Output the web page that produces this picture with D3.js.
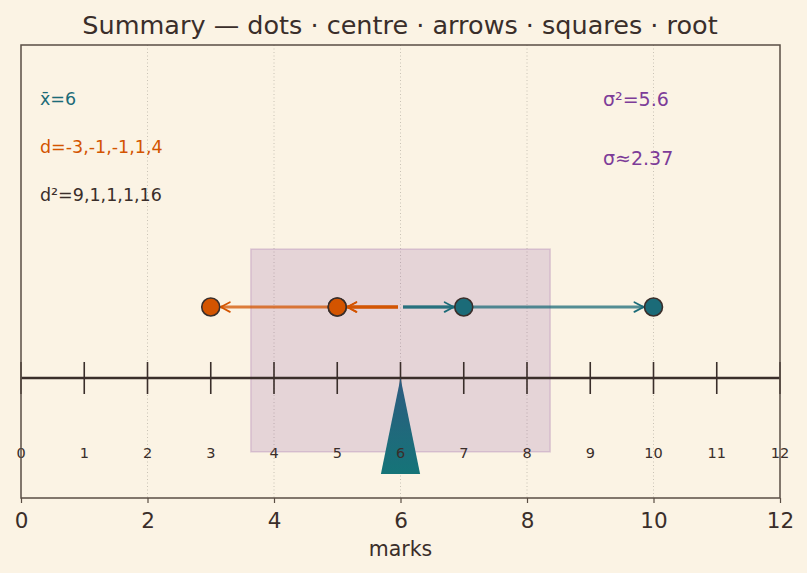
<!doctype html>
<html lang="en">
<head>
  <meta charset="utf-8">
  <script src="https://cdn.jsdelivr.net/npm/d3@7"></script>
  <title>Summary</title>
  <style>
    body { margin: 0; background: #fbf3e4; }
    svg { display: block; font-family: "DejaVu Sans", sans-serif; }
  </style>
</head>
<body>
  <svg id="chart" width="807" height="573"></svg>
  <script>
    // data
    var marks = [3, 5, 5, 7, 10];
    var lineTicks = [0, 1, 2, 3, 4, 5, 6, 7, 8, 9, 10, 11, 12];
    var axisTicks = [0, 2, 4, 6, 8, 10, 12];
    var mean = d3.mean(marks);
    var devs = marks.map(function(m) { return m - mean; });
    var variance = d3.mean(devs.map(function(d) { return d * d; }));
    var sd = Math.sqrt(variance);

    var ink = "#3a2e2a", teal = "#1b6b78", orange = "#d35400", purple = "#7d3c98";
    var W = 807, H = 573;
    var m = { top: 45, right: 27, bottom: 75, left: 21 };
    var svg = d3.select("#chart");

    var x = d3.scaleLinear().domain([0, 12]).range([m.left, W - m.right]);
    var y = d3.scaleLinear().domain([-0.845, 2.345]).range([H - m.bottom, m.top]);

    var defs = svg.append("defs");
    var grad = defs.append("linearGradient").attr("id", "tri").attr("x1", 0).attr("y1", 0).attr("x2", 0).attr("y2", 1);
    grad.append("stop").attr("offset", "0%").attr("stop-color", "#2d5b80");
    grad.append("stop").attr("offset", "100%").attr("stop-color", "#157478");
    [["arrO", orange], ["arrT", teal]].forEach(function(a) {
      defs.append("marker").attr("id", a[0]).attr("viewBox", "0 -5 10 10")
        .attr("refX", 9).attr("refY", 0).attr("markerWidth", 4.2).attr("markerHeight", 4.2)
        .attr("markerUnits", "strokeWidth").attr("orient", "auto")
        .append("path").attr("d", "M1.5,-4L9,0L1.5,4").attr("fill", "none")
        .attr("stroke", a[1]).attr("stroke-width", 1.4).attr("stroke-linecap", "round");
    });

    // grid
    svg.append("g").selectAll("line").data(axisTicks.slice(1, -1)).enter().append("line")
      .attr("x1", function(d) { return x(d); }).attr("x2", function(d) { return x(d); })
      .attr("y1", m.top).attr("y2", H - m.bottom)
      .attr("stroke", "#bdb5a8").attr("stroke-width", 0.8).attr("stroke-dasharray", "1,2.5");

    // sd box
    svg.append("rect")
      .attr("x", x(mean - sd)).attr("width", x(mean + sd) - x(mean - sd))
      .attr("y", y(0.908)).attr("height", y(-0.52) - y(0.908))
      .attr("fill", purple).attr("fill-opacity", 0.17)
      .attr("stroke", purple).attr("stroke-opacity", 0.2).attr("stroke-width", 1.5);

    // number line
    svg.append("line").attr("x1", x(0)).attr("x2", x(12)).attr("y1", y(0)).attr("y2", y(0))
      .attr("stroke", ink).attr("stroke-width", 2.4);
    svg.append("g").selectAll("line").data(lineTicks).enter().append("line")
      .attr("x1", function(d) { return x(d); }).attr("x2", function(d) { return x(d); })
      .attr("y1", y(0) - 16).attr("y2", y(0) + 16)
      .attr("stroke", ink).attr("stroke-width", 1.6);

    // centre triangle
    svg.append("path")
      .attr("d", d3.line()([[x(mean), y(0)], [x(mean - 0.31), y(-0.676)], [x(mean + 0.31), y(-0.676)]]) + "Z")
      .attr("fill", "url(#tri)");

    svg.append("g").selectAll("text").data(lineTicks).enter().append("text")
      .attr("x", function(d) { return x(d); }).attr("y", y(-0.53)).attr("dy", "0.35em")
      .attr("text-anchor", "middle").attr("font-size", 14.5).attr("fill", ink)
      .text(function(d) { return d; });

    // arrows from centre
    var dotY = y(0.5), r = 9;
    svg.append("g").selectAll("line").data(marks).enter().append("line")
      .attr("x1", function(d) { return x(mean) + (d < mean ? -2.5 : 2.5); })
      .attr("x2", function(d) { return x(d) + (d < mean ? r + 1 : -r - 1); })
      .attr("y1", dotY).attr("y2", dotY)
      .attr("stroke", function(d) { return d < mean ? orange : teal; })
      .attr("stroke-opacity", 0.75).attr("stroke-width", 2.9)
      .attr("marker-end", function(d) { return d < mean ? "url(#arrO)" : "url(#arrT)"; });

    svg.append("g").selectAll("circle").data(marks).enter().append("circle")
      .attr("cx", function(d) { return x(d); }).attr("cy", dotY).attr("r", r)
      .attr("fill", function(d) { return d < mean ? orange : teal; })
      .attr("stroke", ink).attr("stroke-width", 1.6);

    // annotations
    svg.append("text").attr("x", 40).attr("y", 99).attr("dy", "0.35em").attr("font-size", 17.5)
      .attr("fill", teal).text("x\u0304=" + mean);
    svg.append("text").attr("x", 40).attr("y", 147).attr("dy", "0.35em").attr("font-size", 17.5)
      .attr("fill", orange).text("d=" + devs.join(","));
    svg.append("text").attr("x", 40).attr("y", 195).attr("dy", "0.35em").attr("font-size", 17.5)
      .attr("fill", ink).text("d\u00b2=" + devs.map(function(d) { return d * d; }).join(","));
    svg.append("text").attr("x", 603).attr("y", 99).attr("dy", "0.35em").attr("font-size", 19)
      .attr("fill", purple).text("\u03c3\u00b2=" + variance.toFixed(1));
    svg.append("text").attr("x", 603).attr("y", 158.5).attr("dy", "0.35em").attr("font-size", 19)
      .attr("fill", purple).text("\u03c3\u2248" + sd.toFixed(2));

    // frame + bottom axis
    svg.append("rect").attr("x", m.left).attr("y", m.top)
      .attr("width", W - m.left - m.right).attr("height", H - m.top - m.bottom)
      .attr("fill", "none").attr("stroke", "#5a4e44").attr("stroke-width", 1.5);
    var ax = svg.append("g").attr("transform", "translate(0," + (H - m.bottom) + ")")
      .call(d3.axisBottom(x).tickValues(axisTicks).tickSize(5).tickPadding(10));
    ax.select(".domain").remove();
    ax.selectAll("line").attr("stroke", "#5a4e44").attr("stroke-width", 1.2);
    ax.selectAll("text").attr("font-size", 21.5).attr("fill", ink).attr("font-family", "DejaVu Sans");

    svg.append("text").attr("x", x(6)).attr("y", 549).attr("dy", "0.35em")
      .attr("text-anchor", "middle").attr("font-size", 20.5).attr("fill", ink).text("marks");

    svg.append("text").attr("x", 400).attr("y", 33.5)
      .attr("text-anchor", "middle").attr("font-size", 25.5).attr("fill", ink)
      .text("Summary \u2014 dots \u00b7 centre \u00b7 arrows \u00b7 squares \u00b7 root");
  </script>
</body>
</html>
